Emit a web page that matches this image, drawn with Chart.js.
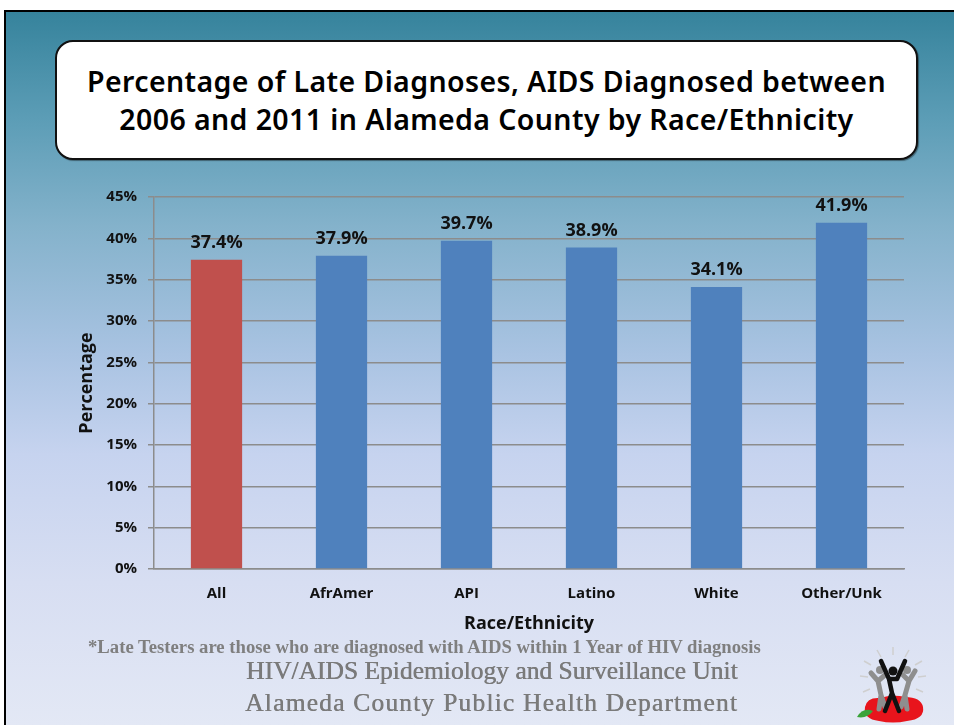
<!DOCTYPE html>
<html>
<head>
<meta charset="utf-8">
<script src="https://cdn.jsdelivr.net/npm/chart.js@4"></script>
<style>
  html, body { margin: 0; padding: 0; }
  body { width: 954px; height: 725px; position: relative; overflow: hidden; background: #fff; }
  #slide {
    position: absolute; left: 4px; top: 10px; right: 0; bottom: 0;
    border-left: 2px solid #000; border-top: 2px solid #000;
    background: linear-gradient(to bottom, #36839c 0%, #5c9db6 15%, #84b2cb 30%, #a9c3e2 48%, #c6d3ef 62%, #d7def2 80%, #e3e8f5 100%);
  }
  #titlebox {
    position: absolute; left: 55px; top: 40px; width: 859px; height: 116px;
    background: #fff; border: 2px solid #111; border-radius: 18px;
    box-shadow: 1px 1px 1px rgba(0,0,0,0.4);
  }
  #titlebox div {
    position: absolute; left: 0; right: 0; text-align: center;
    font-family: "Noto Sans", sans-serif; font-weight: 600; font-size: 28.5px; letter-spacing: 0.4px; color: #000;
    white-space: nowrap; line-height: 1;
  }
  #chart { position: absolute; left: 0; top: 0; }
  .foot { position: absolute; white-space: nowrap; color: #7f7f7f; font-family: "Liberation Serif", serif; font-weight: bold; line-height: 1; }
  #logo { position: absolute; left: 845px; top: 645px; }
</style>
</head>
<body>
<div id="slide"></div>
<div id="titlebox">
  <div style="top: 25px;">Percentage of Late Diagnoses, AIDS Diagnosed between</div>
  <div style="top: 63px;">2006 and 2011 in Alameda County by Race/Ethnicity</div>
</div>
<canvas id="chart" width="954" height="725"></canvas>
<div class="foot" style="left: 88px; top: 638px; font-size: 18.7px;">*Late Testers are those who are diagnosed with AIDS within 1 Year of HIV diagnosis</div>
<div class="foot" style="left: 246px; top: 658px; font-size: 25.5px; font-weight: normal; color:#7a7a7a; text-shadow: 0.5px 0 0 #7a7a7a;">HIV/AIDS Epidemiology and Surveillance Unit</div>
<div class="foot" style="left: 245px; top: 690px; font-size: 25.5px; font-weight: normal; letter-spacing: 1.2px; color:#7a7a7a; text-shadow: 0.5px 0 0 #7a7a7a;">Alameda County Public Health Department</div>
<svg id="logo" width="100" height="80" viewBox="0 0 100 80">
  <g stroke="#cfcfcf" stroke-width="1.5">
    <line x1="48" y1="10" x2="48" y2="2"/>
    <line x1="60" y1="12" x2="64" y2="5"/>
    <line x1="36" y1="12" x2="32" y2="5"/>
    <line x1="70" y1="20" x2="77" y2="16"/>
    <line x1="26" y1="20" x2="19" y2="16"/>
    <line x1="73" y1="32" x2="81" y2="31"/>
    <line x1="23" y1="32" x2="15" y2="31"/>
    <line x1="71" y1="44" x2="78" y2="47"/>
    <line x1="25" y1="44" x2="18" y2="47"/>
  </g>
  <path d="M20 62 Q22 52 35 53 Q48 49 60 52 Q76 52 78 62 Q80 74 62 76 Q48 79 34 76 Q18 74 20 62 Z" fill="#e8141c"/>
  <path d="M12 72 Q18 62 28 66 Q22 74 12 72 Z" fill="#3aa33a"/>
  <g fill="none" stroke="#8e8e8e" stroke-width="5" stroke-linecap="round">
    <path d="M26 28 L33 36 L36 50 L34 64 M36 50 L40 62 M33 36 L40 30"/>
    <path d="M70 26 L64 36 L60 50 L62 64 M60 50 L56 62 M64 36 L58 30"/>
  </g>
  <circle cx="35" cy="25" r="4" fill="#8e8e8e"/>
  <circle cx="62" cy="25" r="4" fill="#8e8e8e"/>
  <g fill="none" stroke="#111" stroke-width="4.5" stroke-linecap="round" stroke-linejoin="round">
    <path d="M36 16 L44 34 L47 48 L40 66 M47 48 L54 66 M44 34 L52 34 L60 16"/>
  </g>
  <circle cx="48" cy="26" r="4.5" fill="#111"/>
</svg>
<script>
const categories = ["All", "AfrAmer", "API", "Latino", "White", "Other/Unk"];
const lateDiagnosisPct = [37.4, 37.9, 39.7, 38.9, 34.1, 41.9];
const yTicks = [0, 5, 10, 15, 20, 25, 30, 35, 40, 45];
const barColors = ["#c0504d", "#4f81bd", "#4f81bd", "#4f81bd", "#4f81bd", "#4f81bd"];

const labelFont = '"Open Sans", "Noto Sans", sans-serif';

const valueLabels = {
  id: 'valueLabels',
  afterDatasetsDraw(chart) {
    const ctx = chart.ctx;
    const meta = chart.getDatasetMeta(0);
    ctx.save();
    ctx.font = 'bold 18px ' + labelFont;
    ctx.fillStyle = '#111';
    ctx.textAlign = 'center';
    ctx.textBaseline = 'middle';
    meta.data.forEach((bar, i) => {
      ctx.fillText(lateDiagnosisPct[i].toFixed(1) + '%', bar.x, bar.y - 17);
    });
    ctx.restore();
  }
};

new Chart(document.getElementById('chart'), {
  type: 'bar',
  data: {
    labels: categories,
    datasets: [{
      data: lateDiagnosisPct,
      backgroundColor: barColors,
      borderWidth: 0,
      categoryPercentage: 1,
      barPercentage: 0.41
    }]
  },
  options: {
    responsive: false,
    animation: false,
    events: [],
    layout: { padding: { left: 76, right: 50, top: 197, bottom: 90 } },
    plugins: { legend: { display: false }, tooltip: { enabled: false }, title: { display: false } },
    scales: {
      x: {
        afterFit(scale) { scale.height = 66; },
        grid: { display: false, drawTicks: false, tickLength: 0 },
        border: { display: true, color: '#8c8c8c', width: 1.5 },
        ticks: { color: '#111', padding: 16, font: { family: labelFont, weight: 'bold', size: 15 } },
        title: { display: true, text: 'Race/Ethnicity', color: '#111', padding: 0, font: { family: labelFont, weight: 'bold', size: 18 } }
      },
      y: {
        min: 0, max: 45,
        afterFit(scale) { scale.width = 78; },
        afterBuildTicks(scale) { scale.ticks = yTicks.map(v => ({ value: v })); },
        grid: { color: '#8c8c8c', lineWidth: 1.5, tickLength: 6, drawTicks: true },
        border: { display: true, color: '#8c8c8c', width: 1.5 },
        ticks: { color: '#111', padding: 11, font: { family: labelFont, weight: 'bold', size: 15 }, callback: v => v + '%' },
        title: { display: true, text: 'Percentage', color: '#111', padding: 0, font: { family: labelFont, weight: 'bold', size: 18 } }
      }
    }
  },
  plugins: [valueLabels]
});
</script>
</body>
</html>
